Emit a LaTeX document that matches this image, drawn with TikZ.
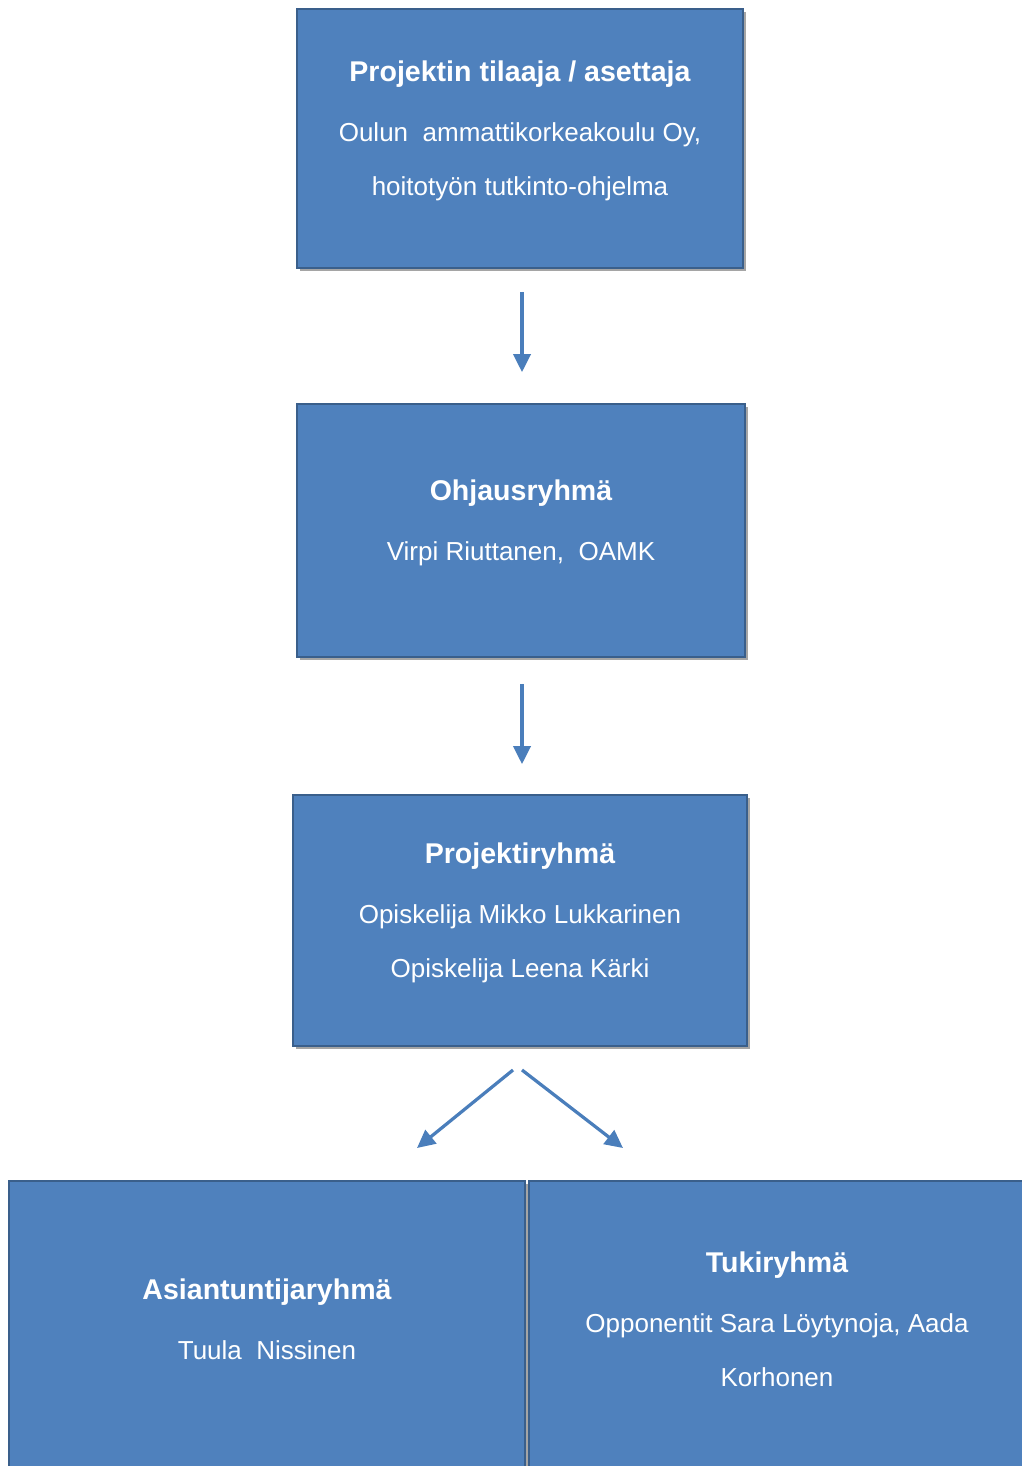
\documentclass[tikz,border=0pt]{standalone}
\usepackage{fontspec}
\setmainfont{Liberation Sans}
\usepackage{xcolor}
\usepackage{tikz}
\usetikzlibrary{calc}
\usetikzlibrary{arrows.meta}
\usetikzlibrary{shadows}
\definecolor{boxblue}{HTML}{4F81BD}
\definecolor{boxedge}{HTML}{3A5F8B}
\definecolor{arrowblue}{HTML}{4A7EBB}
\tikzset{>=latex}
\tikzstyle{box} = [rectangle, draw = boxedge, fill = boxblue, line width = 1.2pt, inner sep = 0,
  drop shadow = {shadow xshift = 0.07cm, shadow yshift = -0.07cm, opacity = 0.5, fill = black!70}]
\tikzstyle{txt} = [draw=none, inner sep = 0, text = white, align = center,
  font = \fontsize{18.5}{38.4}\selectfont]
\tikzstyle{flow} = [-{Triangle[length=0.45cm, width=0.43cm]}, draw = arrowblue, fill = arrowblue, line width = 2.3pt]
\newcommand{\grouptitle}[1]{{\fontsize{20.3}{38.4}\selectfont\bfseries #1}}

\begin{document}
\begin{tikzpicture}[x=0.025cm, y=-0.025cm]
\useasboundingbox (0,0) rectangle (1021,1466);
% boxes
\node [box, minimum width=11.15cm, minimum height=6.475cm] (tilaaja) at (520, 138.5) {};
\node [box, minimum width=11.2cm, minimum height=6.325cm] (ohjaus) at (521, 530.5) {};
\node [box, minimum width=11.35cm, minimum height=6.275cm] (projekti) at (520, 920.5) {};
\node [box, minimum width=12.9cm, minimum height=7.3cm] (asiantuntija) at (267, 1327) {};
\node [box, minimum width=12.4cm, minimum height=7.3cm] (tuki) at (777, 1327) {};
% texts
\node [txt] (tilaajaTxt) at ([yshift=0.19cm]tilaaja.center)
  {\grouptitle{Projektin tilaaja / asettaja}\\[4.3pt] Oulun\ \ ammattikorkeakoulu Oy,\\ hoitotyön tutkinto-ohjelma};
\node [txt] (ohjausTxt) at ([yshift=0.19cm]ohjaus.center)
  {\grouptitle{Ohjausryhmä}\\[4.3pt] Virpi Riuttanen,\ \ OAMK};
\node [txt] (projektiTxt) at ([yshift=0.19cm]projekti.center)
  {\grouptitle{Projektiryhmä}\\[4.3pt] Opiskelija Mikko Lukkarinen\\ Opiskelija Leena Kärki};
\node [txt] (asiantuntijaTxt) at ([yshift=0.19cm]asiantuntija.center)
  {\grouptitle{Asiantuntijaryhmä}\\[4.3pt] Tuula\ \ Nissinen};
\node [txt] (tukiTxt) at ([yshift=0.19cm]tuki.center)
  {\grouptitle{Tukiryhmä}\\[4.3pt] Opponentit Sara Löytynoja, Aada\\ Korhonen};
% arrows
\draw [flow, shorten <= 0.575cm, shorten >= 0.775cm] ([xshift=0.05cm]tilaaja.south) to ([xshift=0.05cm]tilaaja.south |- ohjaus.north);
\draw [flow, shorten <= 0.65cm, shorten >= 0.75cm] ([xshift=0.025cm]ohjaus.south) to ([xshift=0.025cm]ohjaus.south |- projekti.north);
\coordinate (splitL) at (513, 1070);
\coordinate (splitR) at (522, 1070);
\coordinate (toAsiantuntija) at (417, 1148);
\coordinate (toTuki) at (623, 1148);
\draw [flow] (splitL) to (toAsiantuntija);
\draw [flow] (splitR) to (toTuki);
\end{tikzpicture}
\end{document}
